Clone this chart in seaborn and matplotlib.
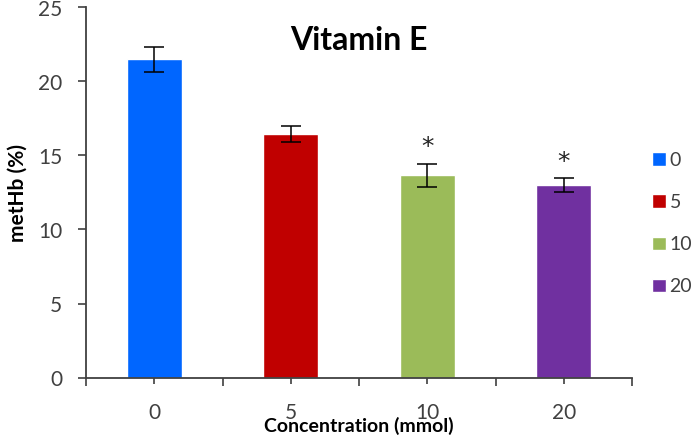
import matplotlib
matplotlib.use("Agg")
import matplotlib.pyplot as plt
import seaborn as sns
import pandas as pd
import numpy as np
from matplotlib.ticker import FixedLocator

# Data
concentrations = ["0", "5", "10", "20"]
methb_mean = [21.5, 16.45, 13.65, 13.0]
methb_err = [0.85, 0.55, 0.8, 0.45]
significance = ["", "", "*", "*"]
bar_colors = ["#0066FF", "#C00000", "#9BBB59", "#7030A0"]

sns.set_style("white")
plt.rcParams["font.family"] = ["Lato", "DejaVu Sans"]

df = pd.DataFrame({"Concentration": concentrations, "metHb": methb_mean})

fig = plt.figure(figsize=(6.97, 4.36), dpi=100)
ax = fig.add_axes([86/697, 1-377.5/436, 546/697, 370/436])

sns.barplot(data=df, x="Concentration", y="metHb", hue="Concentration",
            order=concentrations, hue_order=concentrations,
            palette=bar_colors, width=0.4, saturation=1, errorbar=None,
            legend=True, ax=ax)

xs = np.arange(len(concentrations))
ax.errorbar(xs, methb_mean, yerr=methb_err, fmt="none", ecolor="black",
            elinewidth=1.1, capsize=7, capthick=1.1, zorder=5)

for x, m, e, s in zip(xs, methb_mean, methb_err, significance):
    if s:
        ax.annotate(s, (x, m + e), xytext=(0, 12), textcoords="offset points",
                    ha="center", va="center", fontsize=18, color="#222222",
                    family="DejaVu Sans")

ax.set_ylim(0, 25)
ax.set_xlim(-0.5, 3.5)
ax.set_yticks([0, 5, 10, 15, 20, 25])

for side in ["top", "right"]:
    ax.spines[side].set_visible(False)
for side in ["left", "bottom"]:
    ax.spines[side].set_color("#404040")
    ax.spines[side].set_linewidth(1.3)

ax.tick_params(axis="y", direction="out", length=6, width=1.2, color="#404040",
               labelsize=15, labelcolor="#404040", pad=11, left=True)
ax.tick_params(axis="x", which="major", direction="inout", length=9, width=1.2,
               color="#404040", labelsize=15, labelcolor="#404040", pad=14, bottom=True)
ax.xaxis.set_minor_locator(FixedLocator([-0.5, 0.5, 1.5, 2.5, 3.5]))
ax.tick_params(axis="x", which="minor", direction="out", length=6, width=1.2,
               color="#404040", bottom=True)

ax.set_xlabel("Concentration (mmol)", fontsize=14, fontweight="bold", color="black")
ax.xaxis.set_label_coords(0.5, -(426-377.5)/370)
ax.xaxis.label.set_va("center")
ax.set_ylabel("metHb (%)", fontsize=15, fontweight="bold", color="black")
ax.yaxis.set_label_coords((18-86)/546, 0.5)
ax.yaxis.label.set_va("center")

ax.text(0.5, (377.5-41)/370, "Vitamin E", transform=ax.transAxes,
        ha="center", va="center", fontsize=23, fontweight="bold", color="black")

handles, labels = ax.get_legend_handles_labels()
leg = ax.legend(handles, labels, loc="center left",
                bbox_to_anchor=(652/697, 1-223.5/436), bbox_transform=fig.transFigure,
                frameon=False, fontsize=14, handlelength=0.7, handleheight=0.7,
                handletextpad=0.2, labelspacing=1.3, borderpad=0, borderaxespad=0)
for t in leg.get_texts():
    t.set_color("#404040")

fig.savefig("out.png", dpi=100)
